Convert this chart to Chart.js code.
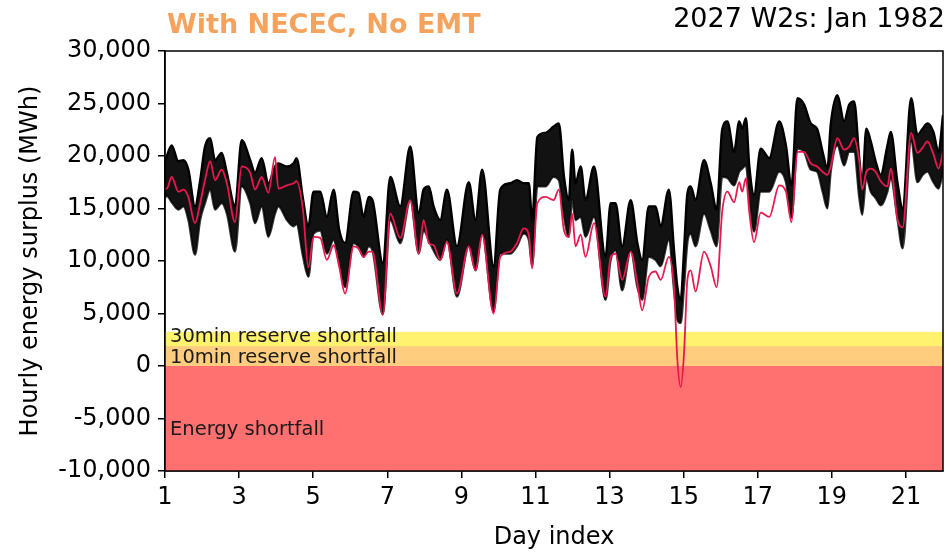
<!DOCTYPE html>
<html>
<head>
<meta charset="utf-8">
<script src="https://cdn.jsdelivr.net/npm/chart.js@4.4.0/dist/chart.umd.min.js"></script>
<style>
html, body { margin: 0; padding: 0; background: #fff; }
#wrap { position: relative; width: 951px; height: 558px; }
</style>
</head>
<body>
<div id="wrap"><canvas id="chart" width="951" height="558"></canvas></div>
<script>
// day index of each traced point
var days = [1.00, 1.05, 1.18, 1.36, 1.50, 1.63, 1.81, 1.95, 2.08, 2.22, 2.35, 2.53, 2.67, 2.89,
    3.07, 3.30, 3.43, 3.61, 3.79, 3.97, 4.06, 4.29, 4.47, 4.55, 4.72, 4.87, 5.01, 5.19, 5.37,
    5.55, 5.70, 5.86, 6.09, 6.22, 6.36, 6.50, 6.60, 6.88, 7.08, 7.35, 7.62, 7.85, 7.98, 8.12,
    8.25, 8.43, 8.61, 8.88, 9.20, 9.38, 9.56, 9.87, 10.05, 10.32, 10.50, 10.68, 10.82, 10.91,
    11.05, 11.27, 11.49, 11.63, 11.77, 11.90, 11.99, 12.08, 12.22, 12.35, 12.58, 12.89, 13.03,
    13.16, 13.34, 13.57, 13.75, 13.88, 14.06, 14.24, 14.38, 14.60, 14.74, 14.83, 14.92, 15.01,
    15.10, 15.19, 15.32, 15.55, 15.73, 15.89, 16.04, 16.18, 16.36, 16.50, 16.58, 16.68, 16.77,
    16.90, 17.08, 17.31, 17.58, 17.76, 17.91, 18.07, 18.25, 18.43, 18.60, 18.75, 18.88, 18.97,
    19.15, 19.33, 19.47, 19.60, 19.74, 19.82, 19.93, 20.05, 20.18, 20.32, 20.50, 20.59, 20.77,
    20.91, 21.14, 21.31, 21.45, 21.58, 21.74, 21.88, 22.00];

// red trace (MWh)
var redSurplus = [16900, 16900, 18000, 16600, 16800, 16100, 13600, 15500, 17700, 19500, 17700, 18700, 17400, 13700,
    19000, 18400, 16800, 18000, 16500, 19900, 16900, 17200, 17400, 17600, 15000, 9400, 12300, 12200, 10100,
    11500, 9500, 6900, 11400, 11200, 10400, 10900, 10900, 4900, 14500, 12200, 15800, 10700, 13900, 11700,
    11500, 10100, 11800, 6900, 11400, 9100, 12500, 5000, 10400, 10900, 11700, 13100, 12500, 9300,
    15500, 16100, 15800, 16800, 12900, 12300, 14500, 11400, 12500, 10400, 13600, 6600, 10400,
    10700, 8200, 10900, 7900, 5300, 8500, 9000, 8200, 10400, 7500, 600, -2000, 1200,
    8200, 9100, 7100, 10900, 9500, 7500, 14700, 16600, 15600, 17500, 16600, 17900, 14700,
    11800, 14600, 14200, 17200, 16600, 13700, 20400, 20400, 19300, 19000, 18500, 18200, 19000,
    21700, 20600, 20900, 21700, 19500, 16800, 18500, 18800, 18500, 17600, 17100, 18800, 14000,
    13200, 22200, 20300, 20800, 21400, 20200, 18800, 20400];

// upper edge of the black ensemble (MWh)
var bandHigh = [19500, 20000, 21000, 19500, 19600, 18700, 15200, 17700, 20900, 21700, 19600, 20300, 18400, 15200,
    21500, 19600, 18400, 19800, 17400, 19000, 19300, 19000, 19300, 19800, 16000, 13300, 16600, 16600, 14200,
    16800, 13000, 11700, 16600, 16500, 14200, 16100, 15800, 9800, 18000, 15200, 20900, 14500, 16800, 17100,
    15200, 13900, 16800, 11400, 17500, 13900, 18700, 9500, 16800, 17400, 17700, 17400, 17400, 13900,
    21800, 22200, 22800, 23100, 18000, 15800, 20600, 17400, 19000, 15800, 19000, 10400, 15500,
    15500, 11400, 15800, 11700, 10100, 15200, 15200, 13300, 16800, 11000, 7500, 6300, 11000,
    16400, 17100, 15800, 19600, 17400, 14900, 22500, 23300, 20400, 23300, 22600, 23600, 19100,
    16300, 20700, 19800, 23300, 21000, 17200, 25500, 24900, 23100, 22600, 20400, 18800, 23000,
    25800, 23300, 24900, 25200, 19800, 17300, 22600, 21400, 19500, 18200, 21000, 22300, 17500,
    15000, 25500, 22000, 22600, 23100, 22300, 20400, 23900];

// lower edge of the black ensemble (MWh)
var bandLow = [16000, 16200, 15600, 14900, 15200, 13900, 10600, 13900, 15500, 16800, 14900, 15500, 14500, 10900,
    17100, 15500, 13600, 15200, 12300, 14500, 15200, 13900, 13300, 13500, 10500, 8500, 12600, 12900, 10700,
    12000, 9800, 7500, 11700, 11400, 10400, 11400, 11000, 4900, 13900, 11700, 15800, 10700, 12900, 12000,
    11000, 10100, 12000, 6600, 11400, 9100, 12600, 5200, 10700, 10700, 11400, 12600, 12000, 9500,
    17100, 17100, 18000, 17700, 14200, 12300, 15800, 13900, 14200, 12300, 14200, 6300, 10100,
    11000, 7200, 11000, 7500, 6300, 10400, 10100, 9500, 12000, 7200, 4400, 4100, 7500,
    11700, 12600, 11400, 14500, 12900, 11400, 18000, 17900, 17200, 18500, 18800, 19100, 16000,
    12800, 16600, 16600, 18500, 17500, 14100, 20700, 20400, 18700, 18500, 16600, 15000, 18500,
    21000, 19100, 20400, 20400, 16000, 14400, 17900, 16600, 16000, 15300, 16600, 17900, 14000,
    11200, 21400, 17500, 18200, 18500, 17500, 16900, 18500];

var xTicks = [1, 3, 5, 7, 9, 11, 13, 15, 17, 19, 21];
var yTicks = [-10000, -5000, 0, 5000, 10000, 15000, 20000, 25000, 30000];

// shortfall zones: lower and upper limits (MWh)
var zoneNames = ['Energy shortfall', '10min reserve shortfall', '30min reserve shortfall'];
var zoneFrom = [-10000, 0, 1900];
var zoneTo = [0, 1900, 3250];
var zoneLabelAt = [-6100, 800, 2800];

var FONT = "'DejaVu Sans', sans-serif";

function points(ys) {
    return days.map((d, i) => ({ x: d, y: ys[i] }));
}

var zonesPlugin = {
    id: 'zones',
    beforeDatasetsDraw(chart) {
        var ctx = chart.ctx, a = chart.chartArea, y = chart.scales.y;
        var fills = ['rgb(255,112,112)', 'rgb(255,205,125)', 'rgb(255,242,110)'];
        ctx.save();
        zoneFrom.forEach((v, i) => {
            var top = y.getPixelForValue(zoneTo[i]);
            var bot = y.getPixelForValue(v);
            ctx.fillStyle = fills[i];
            ctx.fillRect(a.left, top, a.right - a.left, bot - top);
        });
        ctx.fillStyle = '#1a1a1a';
        ctx.font = '19.5px ' + FONT;
        ctx.textBaseline = 'middle';
        zoneNames.forEach((t, i) => {
            ctx.fillText(t, a.left + 5, y.getPixelForValue(zoneLabelAt[i]));
        });
        ctx.restore();
    },
    afterDraw(chart) {
        var ctx = chart.ctx, a = chart.chartArea;
        ctx.save();
        ctx.strokeStyle = '#000';
        ctx.lineWidth = 1.5;
        ctx.strokeRect(a.left, a.top, a.right - a.left, a.bottom - a.top);
        ctx.textBaseline = 'middle';
        ctx.fillStyle = '#f5a25d';
        ctx.font = 'bold 27px ' + FONT;
        ctx.textAlign = 'left';
        ctx.fillText('With NECEC, No EMT', 167, 26);
        ctx.fillStyle = '#000';
        ctx.font = '27px ' + FONT;
        ctx.textAlign = 'right';
        ctx.fillText('2027 W2s: Jan 1982', 945, 20);
        ctx.restore();
    }
};

new Chart(document.getElementById('chart'), {
    type: 'line',
    data: {
        datasets: [
            {
                data: points(redSurplus),
                borderColor: '#e8194f',
                borderWidth: 1.8,
                fill: false
            },
            {
                data: points(bandHigh),
                borderColor: '#000',
                borderWidth: 2.4,
                backgroundColor: 'rgba(0,0,0,0.93)',
                fill: '+1'
            },
            {
                data: points(bandLow),
                borderColor: '#3a3a3a',
                borderWidth: 2.2,
                fill: false
            }
        ]
    },
    options: {
        responsive: false,
        animation: false,
        parsing: false,
        elements: {
            point: { radius: 0 },
            line: { cubicInterpolationMode: 'monotone', borderJoinStyle: 'round' }
        },
        layout: { padding: { top: 51, right: 8, left: 0, bottom: 0 } },
        plugins: {
            legend: { display: false },
            tooltip: { enabled: false }
        },
        scales: {
            x: {
                type: 'linear',
                min: 1,
                max: 22,
                afterFit: s => { s.height = 87; },
                afterBuildTicks: s => { s.ticks = xTicks.map(v => ({ value: v })); },
                grid: { drawOnChartArea: false, drawTicks: true, tickLength: 7, color: '#000', lineWidth: 1.5 },
                border: { display: true, color: '#000', width: 1.5 },
                ticks: { color: '#000', font: { family: FONT, size: 24 }, padding: 5, maxRotation: 0, autoSkip: false },
                title: { display: true, text: 'Day index', color: '#000', font: { family: FONT, size: 24 }, padding: { top: 0, bottom: 6 } }
            },
            y: {
                min: -10000,
                max: 30000,
                afterFit: s => { s.width = 165; },
                afterBuildTicks: s => { s.ticks = yTicks.map(v => ({ value: v })); },
                grid: { drawOnChartArea: false, drawTicks: true, tickLength: 7, color: '#000', lineWidth: 1.5 },
                border: { display: true, color: '#000', width: 1.5 },
                ticks: {
                    color: '#000',
                    font: { family: FONT, size: 24 },
                    padding: 7,
                    callback: v => v.toLocaleString('en-US')
                },
                title: { display: true, text: 'Hourly energy surplus (MWh)', color: '#000', font: { family: FONT, size: 24 }, padding: { top: 16, bottom: 4 } }
            }
        }
    },
    plugins: [zonesPlugin]
});
</script>
</body>
</html>
